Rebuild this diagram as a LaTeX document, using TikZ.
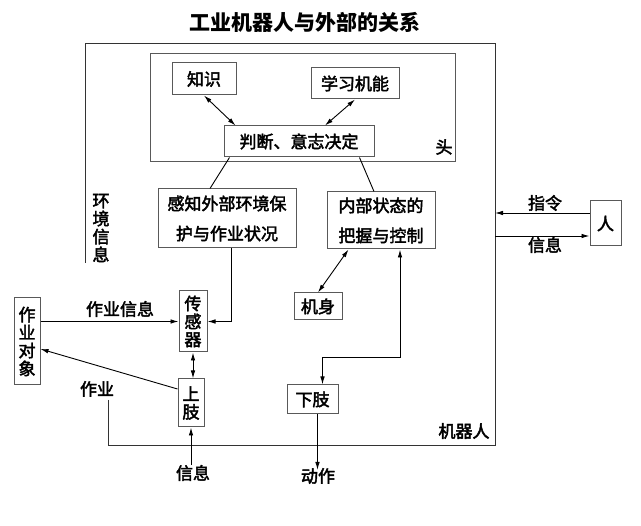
\documentclass[tikz,border=0pt]{standalone}
\usepackage{fontspec}
\setmainfont{Noto Sans CJK SC}
\newfontfamily\cjkm{Noto Sans CJK SC}[FakeBold=2.5]
\usetikzlibrary{arrows.meta}
\begin{document}
\begin{tikzpicture}[x=1pt,y=-1pt,
  >={Latex[length=8pt,width=4.5pt]},
  line width=0.9pt,
  box/.style={draw=black!65, line width=1pt, inner sep=0pt, font=\cjkm\fontsize{17}{18}\selectfont, align=center},
  twoline/.style={box, font=\cjkm\fontsize{17}{30}\selectfont},
  lbl/.style={inner sep=0pt, font=\cjkm\fontsize{17}{18}\selectfont, align=center}
]
\useasboundingbox[fill=white] (0,0) rectangle (641,526);
\node[inner sep=0pt, font=\fontsize{21}{22}\selectfont\bfseries] (title) at (305,22) {工业机器人与外部的关系};

% outer robot frame
\coordinate (oA) at (108,400);
\coordinate (oB) at (108,446);
\coordinate (oC) at (495,446);
\coordinate (oTR) at (495,44);
\coordinate (oTL) at (85,44);
\coordinate (oE) at (85,263);
\draw[black!80, line width=1pt] (oA) -- (oB) -- (oC) -- (oTR) -- (oTL) -- (oE);

% head
\node[box, minimum width=305, minimum height=108] (head) at (302.5,108) {};
\node[lbl] (toulbl) at (444,147) {头};
\node[box, minimum width=64, minimum height=32] (zs) at (204,79) {知识};
\node[box, minimum width=88, minimum height=31] (xx) at (355,83.5) {学习机能};
\node[box, minimum width=150, minimum height=31] (pd) at (299,141.5) {判断、意志决定};

\draw[<->] (zs.south) -- ([xshift=12pt]pd.north west);
\draw[<->] (xx.south) -- ([xshift=26pt]pd.north);

% middle boxes
\node[twoline, minimum width=138, minimum height=59] (gz) at (227,218.5) {感知外部环境保\\护与作业状况};
\node[twoline, minimum width=108, minimum height=57] (nb) at (381,220.5) {内部状态的\\把握与控制};
\draw ([xshift=6pt]pd.south west) -- ([xshift=-17pt]gz.north);
\draw ([xshift=-15pt]pd.south east) -- ([xshift=-7pt]nb.north);

\node[lbl] (hj) at (101,228) {环\\境\\信\\息};

\node[box, minimum width=48, minimum height=27] (js) at (318,306.5) {机身};
\node[box, minimum width=51, minimum height=29] (xz) at (312.5,399.5) {下肢};
\node[box, minimum width=28, minimum height=61] (cg) at (193,321.5) {传\\感\\器};
\node[box, minimum width=26, minimum height=48] (sz) at (191,403) {上\\肢};
\node[box, minimum width=26, minimum height=87] (dx) at (27,341.5) {作\\业\\对\\象};
\node[box, minimum width=31, minimum height=45] (rn) at (605.5,223.5) {人};

\draw[<->] (js.north) -- ([xshift=22pt]nb.south west);
\draw[<->] ([xshift=19pt]nb.south) -- ++(0,108) -| ([xshift=10pt]xz.north);

\draw[->] ([xshift=4pt]gz.south) |- (cg.east);
\draw[->] (dx.east |- cg.west) -- (cg.west);
\node[lbl] (zyxx) at (120,309) {作业信息};
\draw[<->] (cg.south) -- (cg.south |- sz.north);
\draw[->] ([yshift=14pt]sz.west) -- ([yshift=-7.5pt]dx.east);
\node[lbl] (zy) at (97,389) {作业};

\node[lbl] (xin) at (193,473) {信息};
\draw[->] (sz.south |- xin.north) -- (sz.south);

\node[lbl] (dz) at (318,476) {动作};
\coordinate (dzTip) at (317.5,470);
\draw[->] (xz.south -| dzTip) -- (dzTip);

\node[lbl] (jqr) at (464,431) {机器人};

% human
\coordinate (zlA) at ([yshift=10.5pt]rn.west);
\coordinate (xxB) at ([yshift=-12.5pt]rn.west);
\draw[->] (zlA) -- (zlA -| oTR);
\draw[->] (xxB -| oTR) -- (xxB);
\node[lbl] (zl) at (545,203) {指令};
\node[lbl] (xr) at (545,245) {信息};
\end{tikzpicture}
\end{document}
